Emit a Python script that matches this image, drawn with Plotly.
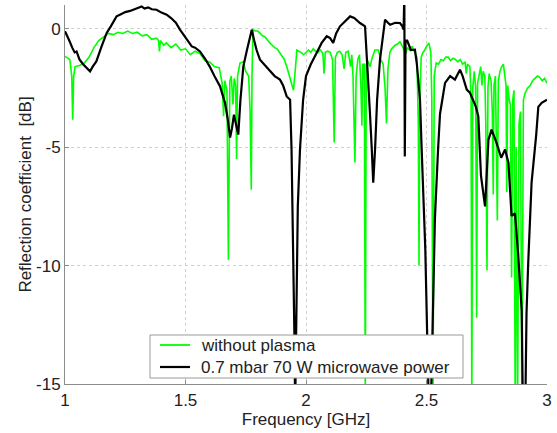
import plotly.graph_objects as go

# ---- data ----
freq_green = [1.000, 1.020, 1.028, 1.032, 1.036, 1.042, 1.060, 1.080, 1.100, 1.120, 1.140, 1.160, 1.180,
              1.200, 1.220, 1.240, 1.260, 1.280, 1.300, 1.320, 1.340, 1.360, 1.380, 1.388, 1.392, 1.396,
              1.410, 1.420, 1.440, 1.460, 1.480, 1.500, 1.520, 1.540, 1.560, 1.580, 1.600, 1.620, 1.640,
              1.652, 1.658, 1.663, 1.672, 1.678, 1.684, 1.690, 1.697, 1.702, 1.708, 1.712, 1.716, 1.726,
              1.740, 1.750, 1.762, 1.768, 1.773, 1.776, 1.780, 1.790, 1.800, 1.810, 1.820, 1.830, 1.840,
              1.850, 1.860, 1.870, 1.880, 1.890, 1.900, 1.910, 1.920, 1.930, 1.940, 1.948, 1.955, 1.962,
              1.970, 1.980, 1.990, 2.000, 2.010, 2.020, 2.030, 2.040, 2.050, 2.060, 2.070, 2.075, 2.080,
              2.090, 2.100, 2.110, 2.117, 2.122, 2.130, 2.140, 2.150, 2.158, 2.165, 2.175, 2.185, 2.190,
              2.195, 2.203, 2.208, 2.215, 2.222, 2.228, 2.232, 2.236, 2.242, 2.246, 2.250, 2.258, 2.266,
              2.275, 2.286, 2.300, 2.310, 2.320, 2.328, 2.334, 2.340, 2.348, 2.355, 2.370, 2.380, 2.390,
              2.400, 2.410, 2.415, 2.420, 2.430, 2.440, 2.445, 2.450, 2.460, 2.466, 2.469, 2.472, 2.478,
              2.485, 2.490, 2.500, 2.510, 2.518, 2.522, 2.527, 2.532, 2.540, 2.550, 2.560, 2.570, 2.580,
              2.590, 2.600, 2.610, 2.620, 2.630, 2.640, 2.650, 2.660, 2.665, 2.670, 2.680, 2.685, 2.688,
              2.692, 2.698, 2.704, 2.708, 2.712, 2.720, 2.725, 2.730, 2.735, 2.742, 2.746, 2.751, 2.755,
              2.760, 2.768, 2.773, 2.777, 2.780, 2.786, 2.794, 2.798, 2.805, 2.812, 2.819, 2.825, 2.830,
              2.833, 2.837, 2.843, 2.848, 2.853, 2.858, 2.863, 2.868, 2.872, 2.878, 2.884, 2.890, 2.896,
              2.902, 2.910, 2.920, 2.930, 2.940, 2.950, 2.960, 2.970, 2.980, 2.990, 3.000]
db_green = [-1.17, -1.30, -2.00, -3.84, -2.00, -1.60, -1.55, -1.45, -1.20, -0.80, -0.50, -0.35, -0.20,
            -0.25, -0.15, -0.20, -0.10, -0.20, -0.15, -0.30, -0.25, -0.45, -0.40, -0.50, -0.96, -0.50,
            -0.70, -0.60, -0.80, -0.65, -0.90, -0.85, -1.10, -0.95, -1.05, -1.35, -1.40, -1.60, -1.65,
            -2.30, -3.70, -2.20, -2.60, -9.75, -2.20, -2.00, -3.20, -2.10, -2.40, -5.50, -2.00, -1.45,
            -1.40, -1.80, -2.00, -3.50, -6.80, -2.00, -0.04, -0.10, -0.10, -0.20, -0.30, -0.35, -0.50,
            -0.60, -0.70, -0.80, -0.85, -1.00, -1.10, -1.30, -1.60, -2.00, -2.30, -2.60, -1.80, -0.90,
            -0.95, -1.00, -1.10, -1.00, -0.90, -1.00, -0.85, -0.95, -1.00, -0.90, -1.05, -1.90, -1.00,
            -0.95, -1.00, -1.30, -4.80, -1.20, -1.00, -0.95, -1.10, -1.70, -1.00, -0.95, -1.60, -1.10,
            -2.00, -5.65, -2.00, -1.30, -1.10, -2.50, -4.10, -1.50, -1.50, -16.0, -1.50, -1.40, -1.60,
            -1.20, -0.90, -0.90, -1.30, -1.50, -2.50, -4.00, -1.70, -1.00, -0.85, -0.70, -0.65, -0.55,
            -0.75, -0.90, -1.05, -0.80, -0.90, -0.75, -0.85, -1.00, -1.20, -4.00, -10.0, -3.00, -1.20,
            -1.00, -0.95, -0.75, -0.60, -1.00, -3.00, -16.0, -2.00, -1.45, -1.50, -1.30, -1.35, -1.20,
            -1.20, -1.35, -1.25, -1.30, -1.40, -1.30, -1.50, -1.40, -1.90, -1.50, -1.60, -3.00, -16.0,
            -2.50, -1.80, -2.50, -12.2, -2.30, -1.80, -1.60, -2.40, -1.80, -2.00, -4.00, -10.2, -2.50,
            -1.90, -2.20, -3.50, -7.00, -2.40, -2.00, -8.10, -2.20, -1.80, -1.60, -1.50, -1.90, -2.40,
            -6.90, -2.40, -3.00, -3.20, -10.5, -3.00, -2.60, -16.0, -5.00, -16.0, -4.00, -3.50, -16.0,
            -3.00, -2.70, -2.50, -2.40, -2.20, -2.10, -2.00, -2.05, -2.20, -2.10, -2.30]

freq_black = [1.000, 1.010, 1.020, 1.030, 1.040, 1.048, 1.060, 1.075, 1.090, 1.104, 1.115, 1.130, 1.150,
              1.165, 1.173, 1.190, 1.200, 1.214, 1.230, 1.250, 1.270, 1.283, 1.300, 1.318, 1.330, 1.345,
              1.360, 1.380, 1.400, 1.422, 1.440, 1.460, 1.477, 1.500, 1.526, 1.540, 1.560, 1.580, 1.600,
              1.620, 1.643, 1.664, 1.675, 1.685, 1.693, 1.701, 1.710, 1.719, 1.728, 1.740, 1.755, 1.765,
              1.775, 1.785, 1.795, 1.809, 1.830, 1.850, 1.870, 1.892, 1.905, 1.920, 1.934, 1.940, 1.948,
              1.952, 1.955, 1.960, 1.966, 1.975, 1.988, 2.000, 2.020, 2.044, 2.065, 2.086, 2.100, 2.113,
              2.125, 2.141, 2.160, 2.183, 2.200, 2.224, 2.245, 2.255, 2.265, 2.273, 2.279, 2.287, 2.295,
              2.307, 2.318, 2.328, 2.340, 2.349, 2.370, 2.390, 2.400, 2.405, 2.408, 2.410, 2.413, 2.420,
              2.435, 2.452, 2.460, 2.473, 2.480, 2.495, 2.503, 2.510, 2.518, 2.525, 2.535, 2.548, 2.556,
              2.577, 2.598, 2.618, 2.630, 2.639, 2.650, 2.667, 2.680, 2.694, 2.705, 2.715, 2.726, 2.743,
              2.757, 2.770, 2.790, 2.810, 2.826, 2.840, 2.853, 2.867, 2.880, 2.895, 2.900, 2.910, 2.915,
              2.922, 2.936, 2.955, 2.964, 2.978, 3.000]
db_black = [-0.11, -0.30, -0.55, -0.80, -1.00, -0.96, -1.30, -1.50, -1.65, -1.80, -1.60, -1.38, -0.80,
            -0.35, -0.18, 0.10, 0.30, 0.52, 0.60, 0.70, 0.75, 0.80, 0.85, 0.94, 0.85, 0.90,
            0.82, 0.80, 0.68, 0.59, 0.45, 0.25, -0.04, -0.35, -0.75, -0.80, -0.96, -1.25, -1.59,
            -2.00, -2.43, -3.13, -3.80, -4.60, -4.20, -3.63, -4.00, -4.47, -3.00, -1.59, -0.90, -0.40,
            -0.04, -0.50, -0.90, -1.31, -1.55, -1.80, -2.00, -2.15, -2.40, -2.86, -3.00, -5.10, -9.30,
            -13.0, -16.0, -11.0, -7.50, -5.10, -3.00, -2.00, -1.50, -1.03, -0.60, -0.32, -0.40, -0.60,
            -0.20, 0.10, 0.30, 0.52, 0.45, 0.24, 0.10, -1.50, -3.50, -5.10, -6.50, -5.00, -3.00,
            -1.31, -0.30, 0.38, 0.25, 0.17, 0.25, 0.24, 0.10, -0.04, 1.50, -5.40, -0.50, -0.50,
            -0.90, -0.89, -1.50, -3.00, -5.10, -9.30, -13.0, -16.0, -16.0, -12.0, -8.00, -5.10, -3.60,
            -2.29, -2.00, -2.15, -1.90, -1.73, -2.00, -2.57, -2.70, -3.00, -3.30, -3.70, -6.20, -7.50,
            -4.70, -4.26, -4.80, -5.45, -5.10, -5.66, -7.90, -7.80, -9.46, -11.9, -16.0, -16.0, -12.0,
            -9.90, -6.50, -4.50, -3.30, -3.13, -3.00]

x_ticks = [1, 1.5, 2, 2.5, 3]
x_tick_labels = ["1", "1.5", "2", "2.5", "3"]
y_ticks = [-15, -10, -5, 0]
y_tick_labels = ["-15", "-10", "-5", "0"]
series_names = ["without plasma", "0.7 mbar 70 W microwave power"]
series_colors = ["#00ff00", "#000000"]

FONT = "Liberation Sans, Arial, Helvetica, sans-serif"

fig = go.Figure()
fig.add_trace(go.Scatter(x=freq_green, y=db_green, mode="lines", name=series_names[0],
                         line=dict(color=series_colors[0], width=1.6)))
fig.add_trace(go.Scatter(x=freq_black, y=db_black, mode="lines", name=series_names[1],
                         line=dict(color=series_colors[1], width=2.2)))

axis_common = dict(
    showgrid=True, gridcolor="#cfcfcf", griddash="dot", gridwidth=1,
    zeroline=False, showline=True, linecolor="#8c8c8c", linewidth=1,
    ticks="inside", ticklen=4, tickcolor="#8c8c8c",
    tickfont=dict(family=FONT, size=17, color="#222222"),
)

# ---- legend box (MATLAB-style), placed in paper coordinates ----
L, R, T, B = 65, 547, 5, 384          # plot-area pixel box used for conversion
def px(x): return (x - L) / (R - L)
def py(y): return (B - y) / (B - T)

shapes = [dict(type="rect", xref="paper", yref="paper",
               x0=px(150), x1=px(463), y0=py(378), y1=py(335),
               line=dict(color="#9a9a9a", width=1), fillcolor="white", layer="above")]
annotations = []
for i, (name, col, w) in enumerate(zip(series_names, series_colors, [1.8, 2.2])):
    yy = 345 + 22 * i
    shapes.append(dict(type="line", xref="paper", yref="paper",
                       x0=px(160), x1=px(190), y0=py(yy), y1=py(yy),
                       line=dict(color=col, width=w), layer="above"))
    annotations.append(dict(xref="paper", yref="paper", x=px(199), y=py(yy),
                            xanchor="left", yanchor="middle", showarrow=False,
                            text=name, font=dict(family=FONT, size=17, color="#222222")))

fig.update_layout(
    width=557, height=433,
    margin=dict(l=65, r=10, t=5, b=49),
    paper_bgcolor="white", plot_bgcolor="white",
    font=dict(family=FONT, size=17, color="#222222"),
    xaxis=dict(range=[1, 3], tickvals=x_ticks, ticktext=x_tick_labels,
               title=dict(text="Frequency [GHz]", font=dict(family=FONT, size=17), standoff=0),
               ticklabelstandoff=1, **axis_common),
    yaxis=dict(range=[-15, 1], tickvals=y_ticks, ticktext=y_tick_labels,
               title=dict(text="Reflection coefficient  [dB]", font=dict(family=FONT, size=17), standoff=0),
               ticklabelstandoff=0, **axis_common),
    shapes=shapes, annotations=annotations,
    showlegend=False,
)

fig.write_html("out.html")
